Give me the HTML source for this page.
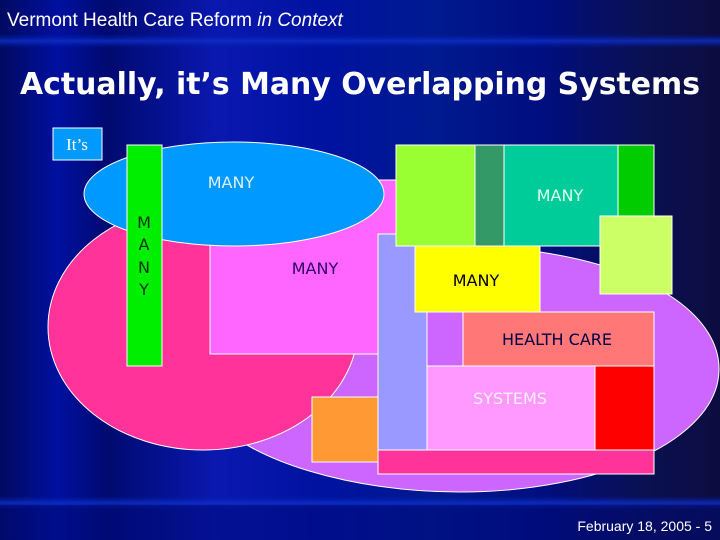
<!DOCTYPE html>
<html><head><style>
body{margin:0;width:720px;height:540px;overflow:hidden;font-family:"Liberation Sans",sans-serif}
.bg{position:absolute;left:0;top:0;width:720px;height:540px;
background:linear-gradient(90deg,#000a60 0%,#0010a0 8%,#000a70 15%,#0a18b0 30%,#0012a0 45%,#001a90 60%,#000e80 75%,#0a1050 90%,#0c0c40 100%)}
</style></head><body>
<div class="bg"></div>
<svg width="720" height="540" style="position:absolute;left:0;top:0">
<defs>
<linearGradient id="band" x1="0" y1="0" x2="0" y2="1"><stop offset="0" stop-color="#0020b0" stop-opacity="0"/><stop offset="0.5" stop-color="#1030c8" stop-opacity="0.8"/><stop offset="1" stop-color="#0020b0" stop-opacity="0"/></linearGradient>
</defs>
<rect x="0" y="34" width="720" height="14" fill="url(#band)"/>
<rect x="0" y="496" width="720" height="14" fill="url(#band)"/>
<rect x="0" y="505" width="720" height="35" fill="#000a78" opacity="0.5"/>
<text x="7" y="26" font-size="19" fill="#fff" font-family="Liberation Sans,sans-serif">Vermont Health Care Reform <tspan font-style="italic">in Context</tspan></text>
<text x="360" y="94" font-size="30" font-weight="bold" fill="#fff" text-anchor="middle" font-family="DejaVu Sans,sans-serif" textLength="680" lengthAdjust="spacingAndGlyphs">Actually, it’s Many Overlapping Systems</text>
<g stroke="#fff" stroke-width="1">
<path d="M540,252 C660,270 720,320 719,370 C718,440 600,492 460,492 C350,492 250,460 215,420 L300,260 C380,245 480,245 540,252 Z" fill="#cc66ff"/>
<ellipse cx="203" cy="327" rx="155" ry="123" fill="#ff3399"/>
<rect x="210" y="180" width="190" height="174" fill="#ff66ff"/>
<ellipse cx="234" cy="194" rx="150" ry="52" fill="#0099ff"/>
<rect x="127" y="145" width="35" height="221" fill="#00ee00"/>
<rect x="53" y="128" width="49" height="32" fill="#0099ff"/>
<rect x="312" y="397" width="66" height="65" fill="#ff9933"/>
<rect x="378" y="234" width="49" height="216" fill="#9999ff"/>
<rect x="396" y="145" width="79" height="101" fill="#99ff33"/>
<rect x="475" y="145" width="29" height="101" fill="#339966"/>
<rect x="504" y="145" width="114" height="101" fill="#00cc99"/>
<rect x="618" y="145" width="36" height="71" fill="#00cc00"/>
<rect x="600" y="216" width="72" height="78" fill="#ccff66"/>
<rect x="415" y="246" width="125" height="66" fill="#ffff00"/>
<rect x="427" y="312" width="36" height="54" fill="#cc66ff"/>
<rect x="463" y="312" width="191" height="54" fill="#ff7777"/>
<rect x="427" y="366" width="168" height="84" fill="#ff99ff"/>
<rect x="595" y="366" width="59" height="84" fill="#ff0000"/>
<rect x="378" y="450" width="276" height="24" fill="#ff3399"/>
</g>
<g font-size="16" font-family="DejaVu Sans,sans-serif">
<text x="77" y="150" font-family="Liberation Serif,serif" font-size="17" fill="#fff" text-anchor="middle">It’s</text>
<text x="231" y="188" fill="#ddeeff" text-anchor="middle">MANY</text>
<text x="315" y="274" fill="#330066" text-anchor="middle">MANY</text>
<text x="560" y="201" fill="#ddffee" text-anchor="middle">MANY</text>
<text x="476" y="286" fill="#000" text-anchor="middle">MANY</text>
<text x="557" y="345" fill="#000044" text-anchor="middle">HEALTH CARE</text>
<text x="510" y="404" fill="#ffeeff" text-anchor="middle">SYSTEMS</text>
<g fill="#003300" text-anchor="middle"><text x="144" y="228">M</text><text x="144" y="250">A</text><text x="144" y="273">N</text><text x="144" y="295">Y</text></g>
</g>
<text x="712" y="531" font-size="14" fill="#fff" text-anchor="end" font-family="Liberation Sans,sans-serif">February 18, 2005   -   5</text>
</svg>
</body></html>
